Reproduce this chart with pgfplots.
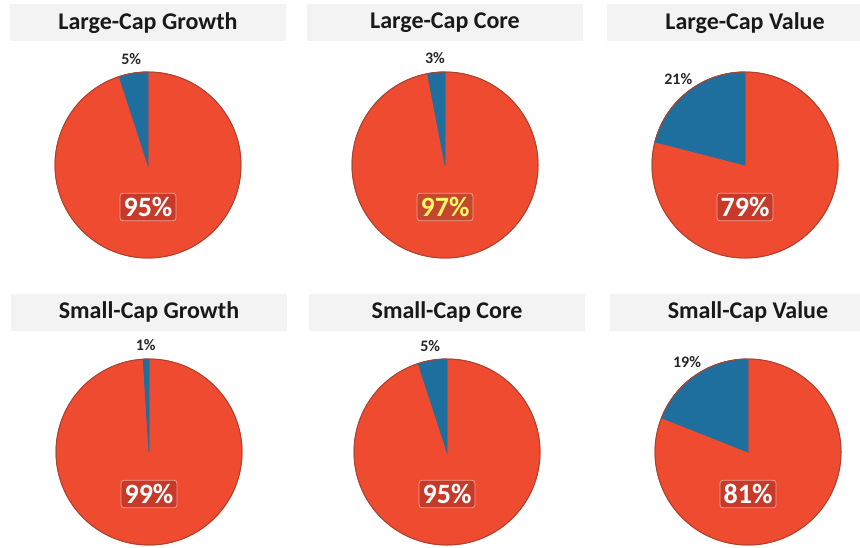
\documentclass[border=0pt]{standalone}
\usepackage{pgfplots}
\pgfplotsset{compat=1.18}
\usepackage{fontspec}
\setmainfont{Carlito}

\definecolor{piered}{HTML}{EE4B30}
\definecolor{pieblue}{HTML}{1E6E9E}
\definecolor{pieedge}{HTML}{A9432F}
\definecolor{titlegray}{HTML}{F3F3F3}
\definecolor{boxred}{HTML}{C73A2A}
\definecolor{boxedge}{HTML}{F0A090}

\tikzset{
  biglabel/.style={fill=boxred, draw=boxedge, line width=0.4pt, rounded corners=1.5pt,
    text=white, inner xsep=1.8pt, inner ysep=2pt, font=\bfseries\fontsize{14}{15}\selectfont},
  smalllabel/.style={text=black!85, inner sep=1pt, font=\bfseries\fontsize{8}{9}\selectfont},
}

% one pie per axis: the point meta is the blue share in percent
\pgfplotsset{
  pie/.style={
    scatter, only marks, point meta=explicit symbolic,
    mark=*, mark size=0pt, mark options={draw=none, fill=none},
    scatter/@pre marker code/.code={%
      \def\R{46.5pt}%
      \pgfmathsetmacro\ang{90+3.6*\pgfplotspointmeta}%
      \pgfmathsetmacro\midang{90+1.8*\pgfplotspointmeta}%
      \pgfmathsetmacro\anc{\midang+180}%
      \pgfmathtruncatemacro\rest{100-\pgfplotspointmeta}%
      \fill[piered] (0pt,0pt) circle[radius=\R];
      \fill[pieblue] (0pt,0pt) -- (90:\R) arc[start angle=90, end angle=\ang, radius=\R] -- cycle;
      \draw[pieedge, line width=0.5pt] (0pt,0pt) circle[radius=\R];
      \node[smalllabel, anchor=\anc] at (\midang:49.5pt) {\pgfplotspointmeta\%};
      \node[biglabel] at (0pt,-21pt) {\rest\%};
    },
    scatter/@post marker code/.code={},
  },
  pieaxis/.style={
    hide axis, scale only axis, width=93pt, height=93pt,
    xmin=-1, xmax=1, ymin=-1, ymax=1, clip=false, anchor=center,
    title style={at={(0.5,1)}, anchor=center, yshift=#1, fill=titlegray,
      minimum width=138pt, minimum height=18.5pt, inner sep=0pt, text=black!90,
      font=\bfseries\fontsize{12}{13}\selectfont},
  },
}

\begin{document}
\begin{tikzpicture}
% row 1
\begin{axis}[pieaxis=18.5pt, at={(74pt,191pt)}, title={Large-Cap Growth}]
\addplot[pie] coordinates {(0,0) [5]};
\end{axis}
\begin{axis}[pieaxis=18.5pt, at={(222.5pt,191pt)}, title={Large-Cap Core}]
\addplot[pie, biglabel/.append style={text=yellow!60!white, fill=boxred!80!brown}] coordinates {(0,0) [3]};
\end{axis}
\begin{axis}[pieaxis=18.5pt, at={(372.5pt,191pt)}, title={Large-Cap Value}]
\addplot[pie] coordinates {(0,0) [21]};
\end{axis}
% row 2
\begin{axis}[pieaxis=17.5pt, at={(74.5pt,47.5pt)}, title={Small-Cap Growth}]
\addplot[pie] coordinates {(0,0) [1]};
\end{axis}
\begin{axis}[pieaxis=17.5pt, at={(223.5pt,47.5pt)}, title={Small-Cap Core}]
\addplot[pie] coordinates {(0,0) [5]};
\end{axis}
\begin{axis}[pieaxis=17.5pt, at={(374pt,47.5pt)}, title={Small-Cap Value}]
\addplot[pie] coordinates {(0,0) [19]};
\end{axis}
\pgfresetboundingbox
\path (0,0) rectangle (430pt,273.5pt);
\end{tikzpicture}
\end{document}
